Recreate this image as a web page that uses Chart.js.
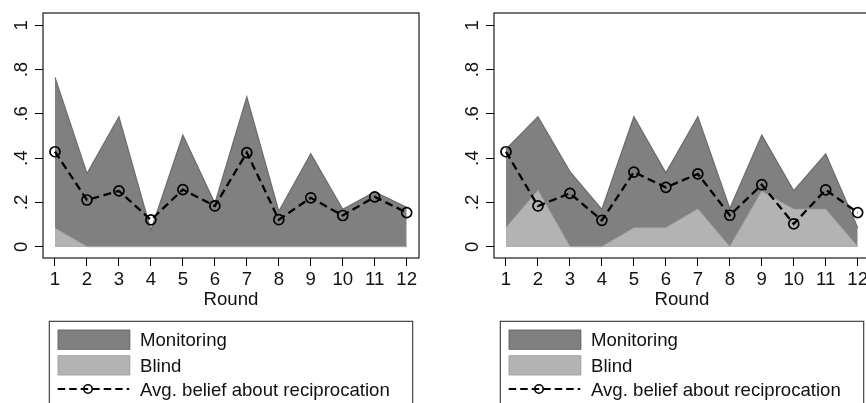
<!DOCTYPE html>
<html>
<head>
<meta charset="utf-8">
<script src="https://cdn.jsdelivr.net/npm/chart.js@4/dist/chart.umd.min.js"></script>
<style>
  html, body { margin: 0; padding: 0; background: #fff; overflow: hidden; }
  #wrap { position: relative; width: 866px; height: 403px; overflow: hidden; background: #fff; }
  .panel { position: absolute; top: 0; width: 451px; height: 403px; }
</style>
</head>
<body>
<div id="wrap">
  <div class="panel" style="left:0"><canvas id="panelA" width="451" height="403"></canvas></div>
  <div class="panel" style="left:451px"><canvas id="panelB" width="451" height="403"></canvas></div>
</div>
<script>
// Rounds of the game
const rounds = [1, 2, 3, 4, 5, 6, 7, 8, 9, 10, 11, 12];

// Left panel
const monitoringA = [0.765, 0.331, 0.587, 0.075, 0.504, 0.196, 0.677, 0.160, 0.420, 0.169, 0.248, 0.178];
const blindA      = [0.083, 0, 0, 0, 0, 0, 0, 0, 0, 0, 0, 0];
const beliefA     = [0.429, 0.211, 0.252, 0.121, 0.258, 0.184, 0.425, 0.122, 0.221, 0.141, 0.225, 0.154];

// Right panel
const monitoringB = [0.440, 0.587, 0.339, 0.169, 0.587, 0.334, 0.587, 0.173, 0.504, 0.253, 0.419, 0.086];
const blindB      = [0.086, 0.254, 0, 0, 0.085, 0.085, 0.170, 0, 0.250, 0.169, 0.169, 0];
const beliefB     = [0.429, 0.184, 0.241, 0.119, 0.337, 0.268, 0.329, 0.142, 0.280, 0.103, 0.257, 0.154];

// Axis ticks and labels
const yTickValues = [0, 0.2, 0.4, 0.6, 0.8, 1];
const yTickLabels = ['0', '.2', '.4', '.6', '.8', '1'];
const xTitle = 'Round';
const seriesNames = ['Monitoring', 'Blind', 'Avg. belief about reciprocation'];

const FONT = '"Liberation Sans", Arial, Helvetica, sans-serif';
const FONT_SIZE = 18.6;
const MON_FILL = '#808080', MON_EDGE = '#6b6b6b';
const BLIND_FILL = '#b3b3b3', BLIND_EDGE = '#a6a6a6';
const BELIEF_DASH = [8, 4.5];

// Plot frame, rotated y labels, axis title and boxed legend
const decorPlugin = {
  id: 'decor',
  afterDraw(chart) {
    const ctx = chart.ctx;
    const a = chart.chartArea;
    const ys = chart.scales.y;
    ctx.save();

    ctx.strokeStyle = '#1a1a1a';
    ctx.lineWidth = 1.2;
    ctx.strokeRect(a.left, a.top, a.right - a.left, a.bottom - a.top);

    ctx.fillStyle = '#111';
    ctx.font = FONT_SIZE + 'px ' + FONT;
    ctx.textAlign = 'center';
    ctx.textBaseline = 'alphabetic';
    yTickValues.forEach((v, i) => {
      const y = ys.getPixelForValue(v);
      ctx.save();
      ctx.translate(a.left - 16.3, y);
      ctx.rotate(-Math.PI / 2);
      ctx.fillText(yTickLabels[i], 0, 0);
      ctx.restore();
    });

    ctx.fillText(xTitle, (a.left + a.right) / 2, 305);

    // legend box
    const lx = 49.3, ly = 321.3, lw = 363.4;
    ctx.strokeStyle = '#333';
    ctx.lineWidth = 1.1;
    ctx.strokeRect(lx, ly, lw, 120);

    const sx = 57.7, sw = 72.5, sh = 20;
    ctx.fillStyle = MON_FILL; ctx.strokeStyle = MON_EDGE; ctx.lineWidth = 1;
    ctx.fillRect(sx, 329.7, sw, sh); ctx.strokeRect(sx + 0.5, 330.2, sw - 1, sh - 1);
    ctx.fillStyle = BLIND_FILL; ctx.strokeStyle = BLIND_EDGE;
    ctx.fillRect(sx, 355.3, sw, sh); ctx.strokeRect(sx + 0.5, 355.8, sw - 1, sh - 1);

    const lyLine = 389;
    ctx.strokeStyle = '#000';
    ctx.lineWidth = 2.2;
    ctx.setLineDash([7.5, 4]);
    ctx.beginPath(); ctx.moveTo(sx, lyLine); ctx.lineTo(sx + sw - 1, lyLine); ctx.stroke();
    ctx.setLineDash([]);
    ctx.lineWidth = 1.6;
    ctx.beginPath(); ctx.arc(88, lyLine, 4.2, 0, Math.PI * 2); ctx.stroke();

    ctx.fillStyle = '#111';
    ctx.textAlign = 'left';
    ctx.fillText(seriesNames[0], 140, 346.3);
    ctx.fillText(seriesNames[1], 140, 371.5);
    ctx.fillText(seriesNames[2], 140, 395.5);
    ctx.restore();
  }
};

function toPoints(values) {
  return rounds.map((r, i) => ({ x: r, y: values[i] }));
}

function drawPanel(canvasId, monitoring, blind, belief) {
  return new Chart(document.getElementById(canvasId), {
    type: 'line',
    data: {
      datasets: [
        {
          label: seriesNames[2], data: toPoints(belief), order: 0,
          borderColor: '#000', borderWidth: 2.3, borderDash: BELIEF_DASH,
          pointStyle: 'circle', pointRadius: 5, pointBorderWidth: 1.7,
          pointBorderColor: '#000', pointBackgroundColor: 'rgba(0,0,0,0)',
          fill: false, tension: 0
        },
        {
          label: seriesNames[1], data: toPoints(blind), order: 1,
          borderColor: BLIND_EDGE, borderWidth: 1, backgroundColor: BLIND_FILL,
          fill: 'origin', pointRadius: 0, tension: 0
        },
        {
          label: seriesNames[0], data: toPoints(monitoring), order: 2,
          borderColor: MON_EDGE, borderWidth: 1.2, backgroundColor: MON_FILL,
          fill: 'origin', pointRadius: 0, tension: 0
        }
      ]
    },
    options: {
      responsive: false,
      animation: false,
      devicePixelRatio: 1,
      layout: { padding: { left: 0, top: 13, right: 32, bottom: 0 } },
      plugins: { legend: { display: false }, tooltip: { enabled: false } },
      scales: {
        x: {
          type: 'linear', min: 0.625, max: 12.385,
          afterBuildTicks: s => { s.ticks = rounds.map(v => ({ value: v })); },
          afterFit: s => { s.height = 145; },
          grid: { display: true, drawOnChartArea: false, drawTicks: true, tickLength: 8, color: '#000', lineWidth: 1 },
          border: { display: false },
          ticks: { color: '#111', padding: 2.5, maxRotation: 0, autoSkip: false,
                   font: { family: FONT, size: FONT_SIZE }, callback: v => String(v) }
        },
        y: {
          type: 'linear', min: -0.051, max: 1.0556,
          afterBuildTicks: s => { s.ticks = yTickValues.map(v => ({ value: v })); },
          afterFit: s => { s.width = 43; },
          grid: { display: true, drawOnChartArea: false, drawTicks: true, tickLength: 8, color: '#000', lineWidth: 1 },
          border: { display: false },
          ticks: { display: false }
        }
      }
    },
    plugins: [decorPlugin]
  });
}

drawPanel('panelA', monitoringA, blindA, beliefA);
drawPanel('panelB', monitoringB, blindB, beliefB);
</script>
</body>
</html>
